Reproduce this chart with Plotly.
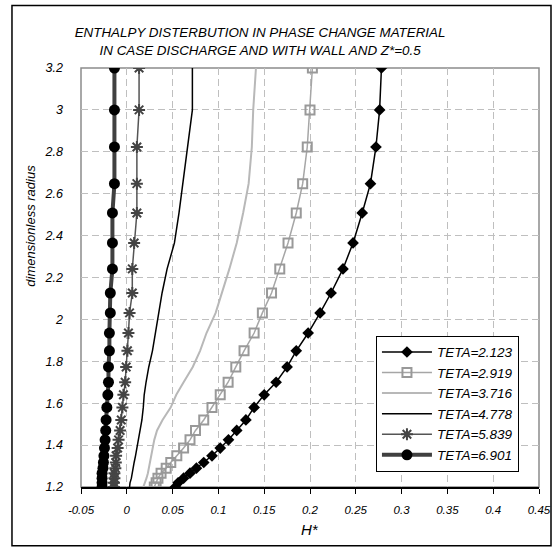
import plotly.graph_objects as go

# Common radial grid (dimensionless radius)
radius = [1.2, 1.22, 1.242, 1.266, 1.29, 1.317, 1.349, 1.386, 1.425, 1.47, 1.52, 1.58, 1.64,
          1.70, 1.773, 1.85, 1.935, 2.031, 2.126, 2.241, 2.365, 2.508, 2.648, 2.823, 3.0, 3.2]

h_teta_2123 = [0.053, 0.056, 0.062, 0.069, 0.076, 0.084, 0.093, 0.102, 0.111, 0.120, 0.130, 0.139, 0.150,
               0.163, 0.175, 0.185, 0.198, 0.211, 0.223, 0.236, 0.247, 0.257, 0.266, 0.272, 0.276, 0.278]
h_teta_2919 = [0.030, 0.032, 0.034, 0.0374, 0.043, 0.048, 0.0546, 0.062, 0.069, 0.075, 0.084, 0.093, 0.102,
               0.1106, 0.119, 0.128, 0.139, 0.148, 0.158, 0.167, 0.176, 0.185, 0.192, 0.197, 0.200, 0.2026]
h_teta_3716 = [0.018, 0.020, 0.0215, 0.023, 0.024, 0.0255, 0.027, 0.028, 0.030, 0.033, 0.039, 0.048, 0.054,
               0.062, 0.072, 0.080, 0.087, 0.097, 0.104, 0.112, 0.120, 0.127, 0.133, 0.1365, 0.138, 0.141]
h_teta_4778 = [0.003, 0.0035, 0.005, 0.0058, 0.0068, 0.008, 0.0095, 0.011, 0.0125, 0.014, 0.0165, 0.018, 0.019,
               0.021, 0.024, 0.028, 0.031, 0.035, 0.0385, 0.044, 0.052, 0.057, 0.061, 0.066, 0.0716, 0.0716]
h_teta_5839 = [-0.014, -0.014, -0.0135, -0.0135, -0.0125, -0.012, -0.0117, -0.010, -0.009, -0.0073, -0.006,
               -0.0048, -0.0037, -0.0018, -0.0007, 0.0007, 0.0018, 0.003, 0.006, 0.006, 0.008, 0.011, 0.011,
               0.011, 0.0134, 0.0134]
h_teta_6901 = [-0.027, -0.027, -0.027, -0.027, -0.026, -0.0255, -0.025, -0.0244, -0.0237, -0.023, -0.0226,
               -0.0218, -0.0207, -0.020, -0.020, -0.019, -0.019, -0.018, -0.018, -0.0157, -0.0157, -0.0157,
               -0.0135, -0.0135, -0.0135, -0.0135]

series_names = ["TETA=2.123", "TETA=2.919", "TETA=3.716", "TETA=4.778", "TETA=5.839", "TETA=6.901"]

x_tick_vals = [-0.05, 0, 0.05, 0.1, 0.15, 0.2, 0.25, 0.3, 0.35, 0.4, 0.45]
x_tick_text = ["-0.05", "0", "0.05", "0.1", "0.15", "0.2", "0.25", "0.3", "0.35", "0.4", "0.45"]
y_tick_vals = [1.2, 1.4, 1.6, 1.8, 2.0, 2.2, 2.4, 2.6, 2.8, 3.0, 3.2]
y_tick_text = ["1.2", "1.4", "1.6", "1.8", "2", "2.2", "2.4", "2.6", "2.8", "3", "3.2"]

FONT = "Liberation Sans, Arial, sans-serif"

fig = go.Figure()
fig.add_trace(go.Scatter(x=h_teta_2123, y=radius, name=series_names[0], mode="lines+markers",
                         line=dict(color="black", width=1.5),
                         marker=dict(symbol="diamond", size=9, color="black")))
fig.add_trace(go.Scatter(x=h_teta_2919, y=radius, name=series_names[1], mode="lines+markers",
                         line=dict(color="#a6a6a6", width=1.5),
                         marker=dict(symbol="square-open", size=9, color="#999999",
                                     line=dict(width=2, color="#999999"))))
fig.add_trace(go.Scatter(x=h_teta_3716, y=radius, name=series_names[2], mode="lines",
                         line=dict(color="#b8b8b8", width=2)))
fig.add_trace(go.Scatter(x=h_teta_4778, y=radius, name=series_names[3], mode="lines",
                         line=dict(color="black", width=1.5)))
fig.add_trace(go.Scatter(x=h_teta_5839, y=radius, name=series_names[4], mode="lines+markers",
                         line=dict(color="#555555", width=1.5),
                         marker=dict(symbol="asterisk-open", size=10, color="#444444",
                                     line=dict(width=2, color="#444444"))))
fig.add_trace(go.Scatter(x=h_teta_6901, y=radius, name=series_names[5], mode="lines+markers",
                         line=dict(color="#404040", width=4),
                         marker=dict(symbol="circle", size=11, color="black")))

fig.update_layout(
    width=554, height=548,
    margin=dict(l=81, r=15, t=68, b=61, autoexpand=False),
    paper_bgcolor="white", plot_bgcolor="white",
    font=dict(family=FONT, size=11, color="black"),
    title=dict(text="ENTHALPY DISTERBUTION IN PHASE CHANGE MATERIAL<br>IN CASE DISCHARGE AND WITH WALL AND Z*=0.5",
               x=0.391, xref="paper", xanchor="center", yref="container", y=0.932, yanchor="top",
               font=dict(family=FONT, size=13.4, style="italic", color="black")),
    xaxis=dict(range=[-0.05, 0.45], tickvals=x_tick_vals, ticktext=x_tick_text,
               automargin=False,
               showgrid=True, gridcolor="#bfbfbf", griddash="7px,4px", gridwidth=1,
               showline=True, linecolor="black", linewidth=1.5,
               ticks="outside", ticklen=5, tickcolor="black",
               ticklabelstandoff=6,
               zeroline=False,
               tickfont=dict(family=FONT, size=11.5, style="italic")),
    yaxis=dict(range=[1.2, 3.2], tickvals=y_tick_vals, ticktext=y_tick_text,
               automargin=False,
               showgrid=True, gridcolor="#bfbfbf", griddash="7px,4px", gridwidth=1,
               showline=False, zeroline=False, ticks="",
               ticklabelstandoff=17,
               tickfont=dict(family=FONT, size=12.5, style="italic")),
    legend=dict(x=0.644, y=0.361, xanchor="left", yanchor="top",
                bgcolor="white", bordercolor="black", borderwidth=1,
                font=dict(family=FONT, size=13.5, style="italic"),
                itemwidth=50, tracegroupgap=0),
    showlegend=True,
    annotations=[
        dict(text="H*", xref="paper", yref="paper", x=0.5, y=-0.102, xanchor="center", yanchor="middle",
             showarrow=False, font=dict(family=FONT, size=15, style="italic")),
        dict(text="dimensionless radius", xref="paper", yref="paper", x=-0.111, y=0.624,
             xanchor="center", yanchor="middle", textangle=-90,
             showarrow=False, font=dict(family=FONT, size=13, style="italic")),
    ],
    shapes=[
        dict(type="rect", xref="paper", yref="paper", x0=0, y0=0, x1=1, y1=1,
             line=dict(color="#8c8c8c", width=1.5), layer="below"),
        dict(type="rect", xref="paper", yref="paper", x0=-0.1507, y0=-0.140, x1=1.0262, y1=1.149,
             line=dict(color="black", width=1.5), layer="below"),
    ],
)

fig.write_html("out.html", config={"displayModeBar": False},
               post_script="document.body.style.margin='0';document.body.style.overflow='hidden';")
